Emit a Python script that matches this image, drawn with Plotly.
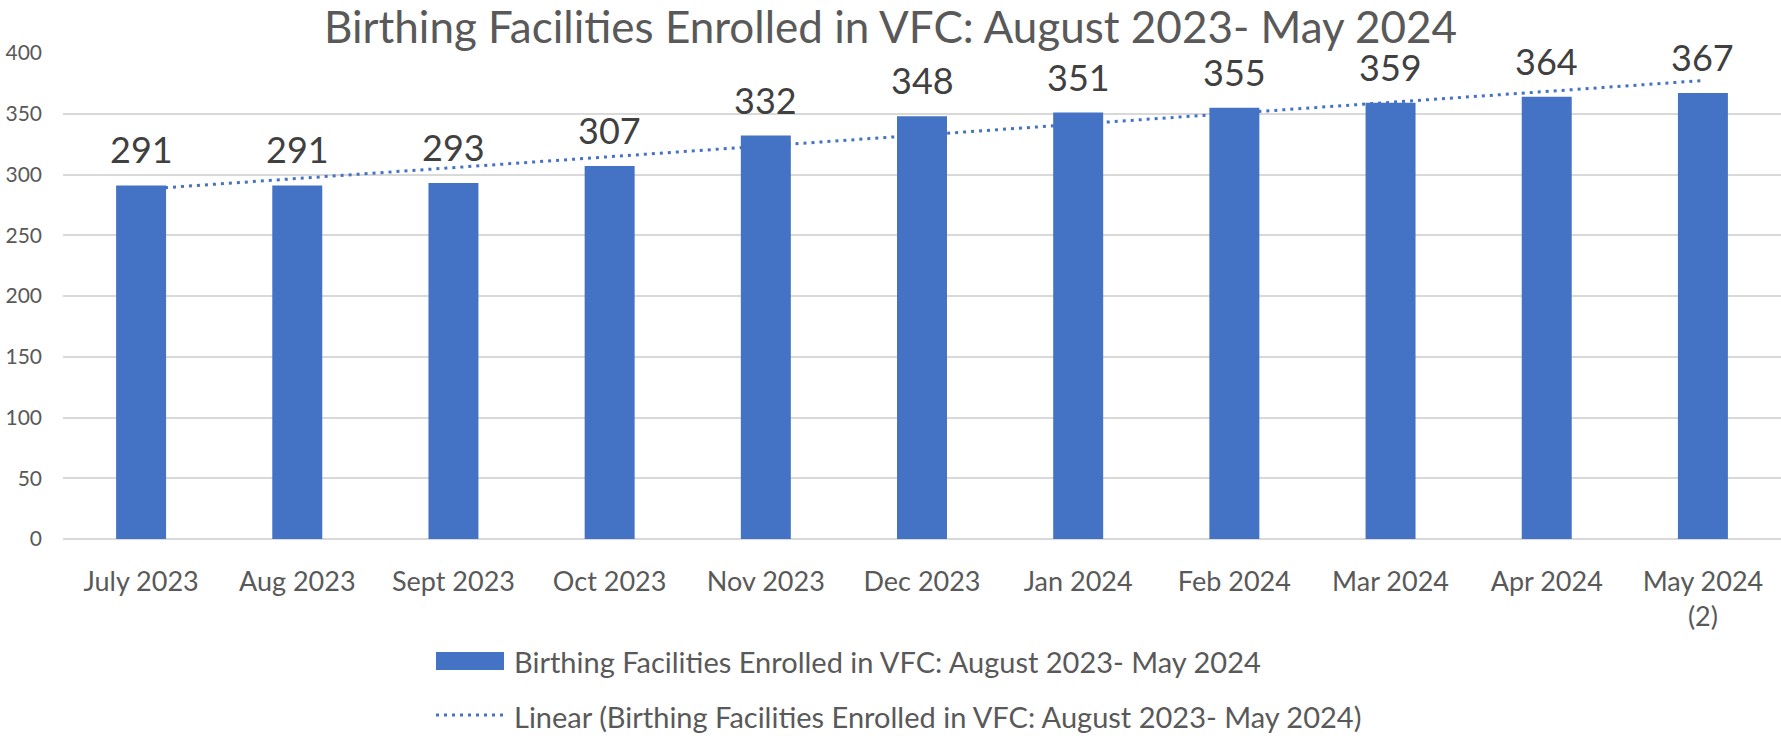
import numpy as np
import plotly.graph_objects as go

categories = ["July 2023", "Aug 2023", "Sept 2023", "Oct 2023", "Nov 2023", "Dec 2023",
              "Jan 2024", "Feb 2024", "Mar 2024", "Apr 2024", "May 2024 (2)"]
tick_labels = ["July 2023", "Aug 2023", "Sept 2023", "Oct 2023", "Nov 2023", "Dec 2023",
               "Jan 2024", "Feb 2024", "Mar 2024", "Apr 2024", "May 2024<br>(2)"]
values = [291, 291, 293, 307, 332, 348, 351, 355, 359, 364, 367]
series_name = "Birthing Facilities Enrolled in VFC: August 2023- May 2024"
trend_name = "Linear (Birthing Facilities Enrolled in VFC: August 2023- May 2024)"
y_ticks = [0, 50, 100, 150, 200, 250, 300, 350, 400]

BLUE = "#4472C4"
GREY = "#595959"
FONT = "Lato"

# linear trendline (least squares over category index)
idx = np.arange(1, len(values) + 1)
slope, intercept = np.polyfit(idx, values, 1)
trend = slope * idx + intercept

fig = go.Figure()
fig.add_trace(go.Scatter(x=categories, y=trend, mode="lines", name=trend_name,
                         line=dict(color=BLUE, width=3, dash="3px,5px"),
                         zorder=0, showlegend=False, hoverinfo="skip"))
fig.add_trace(go.Bar(x=categories, y=values, name=series_name, marker_color=BLUE,
                     marker_line_width=0, zorder=1, showlegend=False))

for c, v in zip(categories, values):
    fig.add_annotation(x=c, y=v, text=str(v), showarrow=False, yanchor="middle",
                       yshift=36, font=dict(family=FONT, size=36, color="#404040"))

# legend (drawn manually to mimic the wide symbols)
def px_x(p):
    return (p - 63) / (1781 - 63)

def px_y(p):
    return (539 - p) / (539 - 53)

fig.add_shape(type="rect", xref="paper", yref="paper",
              x0=px_x(436), x1=px_x(504), y0=px_y(670), y1=px_y(652),
              fillcolor=BLUE, line_width=0)
fig.add_shape(type="line", xref="paper", yref="paper",
              x0=px_x(436), x1=px_x(504), y0=px_y(715), y1=px_y(715),
              line=dict(color=BLUE, width=3, dash="3px,5px"))
fig.add_annotation(xref="paper", yref="paper", x=px_x(512), y=px_y(661), text=series_name,
                   xanchor="left", yanchor="middle", showarrow=False,
                   font=dict(family=FONT, size=29, color=GREY))
fig.add_annotation(xref="paper", yref="paper", x=px_x(512), y=px_y(716), text=trend_name,
                   xanchor="left", yanchor="middle", showarrow=False,
                   font=dict(family=FONT, size=29, color=GREY))

fig.update_layout(
    width=1781, height=736,
    margin=dict(l=63, r=0, t=53, b=197),
    paper_bgcolor="white", plot_bgcolor="white",
    bargap=0.68,
    title=dict(text=series_name, x=0.5, xanchor="center", xref="container",
               y=1 - 28 / 736, yanchor="middle", yref="container",
               font=dict(family=FONT, size=44, color=GREY)),
    font=dict(family=FONT, color=GREY),
    showlegend=False,
)
fig.update_xaxes(tickvals=categories, ticktext=tick_labels, showgrid=False, showline=False,
                 ticks="", tickfont=dict(family=FONT, size=27, color=GREY),
                 ticklabelstandoff=24)
fig.update_yaxes(range=[0, 400], tickvals=y_ticks, showgrid=True, gridcolor="#D9D9D9",
                 gridwidth=1.5, zeroline=True, zerolinecolor="#D9D9D9", zerolinewidth=1.5,
                 showline=False, ticks="", tickfont=dict(family=FONT, size=21, color=GREY),
                 ticklabelstandoff=20)

fig.write_html("out.html")
